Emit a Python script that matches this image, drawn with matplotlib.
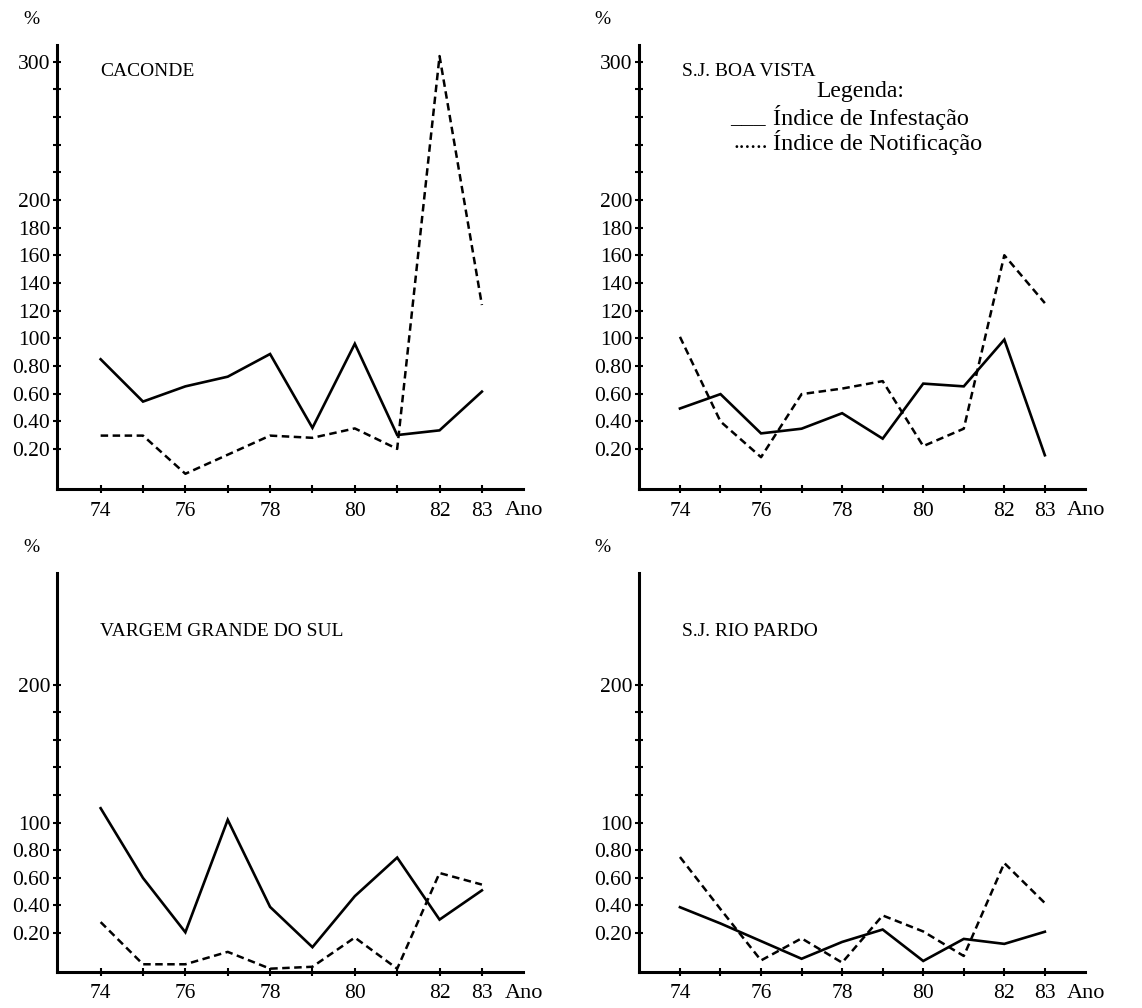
import matplotlib.pyplot as plt

# values in tick-index units: 1 = "0.20", 2 = "0.40", ... 5 = "100", 10 = "200", 15 = "300"
anos = [74, 75, 76, 77, 78, 79, 80, 81, 82, 83]
ano_labels = ['74', '', '76', '', '78', '', '80', '', '82', '83']

ylabels_top = ['0.20', '0.40', '0.60', '0.80', '100', '120', '140', '160', '180', '200',
               '', '', '', '', '300']
ylabels_bottom = ['0.20', '0.40', '0.60', '0.80', '100', '', '', '', '', '200']

caconde_inf = [4.24, 2.71, 3.26, 3.61, 4.43, 1.76, 4.80, 1.50, 1.67, 3.07]
caconde_not = [1.48, 1.48, 0.10, 0.79, 1.48, 1.40, 1.74, 1.00, 15.2, 6.2]

boavista_inf = [2.46, 2.98, 1.56, 1.73, 2.29, 1.37, 3.36, 3.26, 4.95, 0.77]
boavista_not = [5.05, 1.99, 0.70, 2.98, 3.18, 3.45, 1.10, 1.73, 8.0, 6.27]

vargem_inf = [5.52, 2.99, 1.02, 5.10, 1.94, 0.48, 2.33, 3.73, 1.48, 2.54]
vargem_not = [1.39, -0.14, -0.14, 0.31, -0.30, -0.23, 0.83, -0.30, 3.17, 2.75]

riopardo_inf = [1.93, 1.34, 0.70, 0.06, 0.67, 1.12, -0.02, 0.78, 0.60, 1.04]
riopardo_not = [3.75, 1.86, 0.00, 0.80, -0.08, 1.63, 1.05, 0.16, 3.53, 2.08]

W, H = 1142, 1008
plt.rcParams['font.family'] = ['Liberation Serif', 'DejaVu Serif']

fig = plt.figure(figsize=(W / 100, H / 100), dpi=100)


def panel(px_left, px_right, px_top, px_bottom, xlim, ylim, ylabels, title, title_y, pct_x, inf, notif):
  ax = fig.add_axes([px_left / W, 1 - px_bottom / H,
                     (px_right - px_left) / W, (px_bottom - px_top) / H])
  ax.plot(anos, inf, color='black', linewidth=1.9, solid_joinstyle='miter')
  ax.plot(anos, notif, color='black', linewidth=1.8, linestyle=(0, (3.0, 1.8)))
  ax.set_xlim(*xlim)
  ax.set_ylim(*ylim)
  ax.set_xticks(anos)
  ax.set_xticklabels(ano_labels)
  ax.set_yticks(range(1, len(ylabels) + 1))
  ax.set_yticklabels(ylabels)
  for s in ['top', 'right']:
    ax.spines[s].set_visible(False)
  for s in ['left', 'bottom']:
    ax.spines[s].set_linewidth(2.2)
  ax.tick_params(direction='inout', length=6, width=1.5, labelsize=15.5)
  ax.tick_params(axis='x', pad=6)
  ax.tick_params(axis='y', pad=2)
  ax.patch.set_visible(False)
  ax.annotate('Ano', xy=(83.55, 0), xycoords=('data', 'axes fraction'),
              xytext=(0, -8.5), textcoords='offset points', ha='left', va='top', fontsize=16)
  fig.text((px_left + 43) / W, 1 - title_y / H, title, ha='left', va='center', fontsize=14)
  fig.text(pct_x / W, 1 - (px_top - 26) / H, '%', ha='center', va='center', fontsize=14)
  return ax


panel(57, 523, 45, 489, (72.97, 83.97), (-0.45, 15.6), ylabels_top, 'CACONDE', 71, 31,
      caconde_inf, caconde_not)
panel(639, 1085, 45, 489, (72.99, 83.99), (-0.45, 15.6), ylabels_top, 'S.J. BOA VISTA', 71, 602,
      boavista_inf, boavista_not)
panel(57, 523, 573, 972, (72.97, 83.97), (-0.42, 14.05), ylabels_bottom, 'VARGEM GRANDE DO SUL', 632, 31,
      vargem_inf, vargem_not)
panel(639, 1085, 573, 972, (72.99, 83.99), (-0.42, 14.05), ylabels_bottom, 'S.J. RIO PARDO', 632, 602,
      riopardo_inf, riopardo_not)

# legend drawn as text, as in the original
fig.text(860 / W, 1 - 92 / H, 'Legenda:', ha='center', va='center', fontsize=17)
fig.text(766 / W, 1 - 118 / H, '___', ha='right', va='center', fontsize=17)
fig.text(773 / W, 1 - 118 / H, 'Índice de Infestação', ha='left', va='center', fontsize=17.5)
fig.text(768 / W, 1 - 143 / H, '......', ha='right', va='center', fontsize=17)
fig.text(773 / W, 1 - 143 / H, 'Índice de Notificação', ha='left', va='center', fontsize=17.5)

fig.savefig('out.png', dpi=100)
